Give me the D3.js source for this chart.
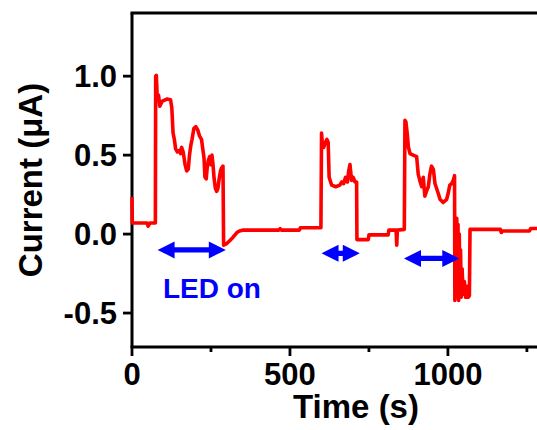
<!DOCTYPE html>
<html>
<head>
<meta charset="utf-8">
<script src="https://cdn.jsdelivr.net/npm/d3@7"></script>
<style>
  body { margin: 0; background: #fff; }
  text { font-family: "Liberation Sans", Arial, sans-serif; font-weight: bold; }
</style>
</head>
<body>
<svg width="537" height="430"></svg>
<script>

// photocurrent trace (time in s, current in uA)
const timeS = [
  // dark, before first LED
  0, 1, 48, 51, 54, 57, 74,
  // LED 1
  75, 77, 80, 84, 88, 95, 110, 122, 126, 130,
  134, 138, 144, 150, 154, 157, 162, 168, 173, 178,
  182, 186, 190, 196, 202, 208, 214, 220, 224, 228,
  231, 235, 238, 242, 246, 250, 253, 256, 260, 264,
  268, 272, 276, 280, 284, 288,
  // dark
  290, 300, 310, 320, 332, 340, 350, 465, 469, 473, 530, 533, 598,
  // LED 2
  600, 603, 607, 612, 617, 621, 624, 632, 645, 658,
  664, 670, 676, 682, 686, 690, 695, 700, 706, 711,
  // dark
  712, 748, 750, 811, 813, 836, 838, 840, 862,
  // LED 3
  864, 867, 871, 875, 880, 890, 901, 906, 911, 917,
  922, 927, 932, 938, 943, 948, 954, 959, 964, 969,
  975, 985, 996, 1001, 1006, 1012, 1017, 1021,
  // noisy part after switching off
  1022, 1024, 1026, 1028, 1030, 1032, 1034, 1036, 1038, 1040,
  1042, 1045, 1048, 1052, 1056, 1060, 1064, 1068, 1070,
  // dark
  1071, 1166, 1169, 1173, 1258, 1262, 1282
];

const currentUA = [
  0.235, 0.07, 0.07, 0.05, 0.06, 0.07, 0.07,
  1.0, 1.005, 0.86, 0.88, 0.81, 0.84, 0.855, 0.85, 0.80, 0.64,
  0.60, 0.54, 0.52, 0.53, 0.51, 0.55, 0.52, 0.44, 0.40, 0.41,
  0.50, 0.56, 0.60, 0.67, 0.68, 0.66, 0.62, 0.60, 0.54, 0.48,
  0.36, 0.35, 0.42, 0.47, 0.49, 0.44, 0.50, 0.45, 0.35, 0.29,
  0.27, 0.29, 0.35, 0.40, 0.42, 0.43,
  -0.07, -0.06, -0.04, -0.02, 0.01, 0.02, 0.025, 0.025, 0.035, 0.025, 0.025, 0.04, 0.04,
  0.64, 0.56, 0.55, 0.58, 0.60, 0.58, 0.36, 0.31, 0.30, 0.31,
  0.33, 0.32, 0.36, 0.33, 0.40, 0.44, 0.34, 0.36, 0.33, 0.33,
  -0.035, -0.035, -0.005, -0.005, 0.025, 0.025, -0.07, 0.025, 0.03,
  0.72, 0.71, 0.64, 0.55, 0.51, 0.50, 0.49, 0.38, 0.34, 0.30,
  0.36, 0.24, 0.27, 0.30, 0.38, 0.43, 0.41, 0.32, 0.29, 0.26,
  0.22, 0.20, 0.22, 0.26, 0.31, 0.32, 0.34, 0.37,
  -0.42, 0.05, -0.40, 0.10, -0.38, 0.06, -0.42, 0.0, -0.36, -0.10,
  -0.40, -0.22, -0.38, -0.30, -0.40, -0.33, -0.40, -0.39, 0.03,
  0.03, 0.03, 0.01, 0.02, 0.02, 0.035, 0.035
];

// LED on periods (double arrows)
const ledStart = [81, 600, 861];
const ledEnd = [297, 721, 1036];
const ledArrowY = [-0.10, -0.122, -0.154];

// axis ticks
const xTicksMajor = [0, 500, 1000];
const xTicksMinor = [250, 750, 1250];
const yTicks = [-0.5, 0.0, 0.5, 1.0];

const xLabel = 'Time (s)';
const yLabel = 'Current (\u03bcA)';
const ledLabel = 'LED on';

//---- chart setup ----
const svg = d3.select('svg');
const width = +svg.attr('width');

// plot box (top/left/bottom edge in px)
const plotLeft = 132, plotTop = 13, plotBottom = 347;

const x = d3.scaleLinear().domain([0, 1282]).range([plotLeft, width]);
const y = d3.scaleLinear().domain([-0.715, 1.4]).range([plotBottom, plotTop]);

//---- axes / frame (drawn first, the trace sits on top of it) ----
const frame = svg.append('g').attr('stroke', '#000').attr('stroke-width', 3);
frame.append('line').attr('x1', plotLeft - 1.5).attr('x2', width).attr('y1', plotTop).attr('y2', plotTop);
frame.append('line').attr('x1', plotLeft).attr('x2', plotLeft).attr('y1', plotTop).attr('y2', plotBottom);
frame.append('line').attr('x1', plotLeft - 1.5).attr('x2', width).attr('y1', plotBottom).attr('y2', plotBottom);

// y ticks (outside)
frame.selectAll('line.yt').data(yTicks)
  .enter().append('line')
  .attr('class', 'yt')
  .attr('stroke-width', 2.8)
  .attr('x1', plotLeft - 9).attr('x2', plotLeft)
  .attr('y1', d => y(d)).attr('y2', d => y(d));

frame.selectAll('line.xt').data(xTicksMajor)
  .enter().append('line')
  .attr('class', 'xt')
  .attr('stroke-width', 2.8)
  .attr('x1', d => x(d)).attr('x2', d => x(d))
  .attr('y1', plotBottom).attr('y2', plotBottom + 9);

frame.selectAll('line.xm').data(xTicksMinor)
  .enter().append('line')
  .attr('class', 'xm')
  .attr('stroke-width', 2.8)
  .attr('x1', d => x(d)).attr('x2', d => x(d))
  .attr('y1', plotBottom).attr('y2', plotBottom + 5);

// plain hyphen for negatives, like the original
svg.selectAll('text.ytl').data(yTicks)
  .enter().append('text')
  .attr('class', 'ytl')
  .attr('x', plotLeft - 15)
  .attr('y', d => y(d) + 11)
  .attr('text-anchor', 'end')
  .attr('font-size', 31)
  .text(d => d.toFixed(1));

svg.selectAll('text.xtl').data(xTicksMajor)
  .enter().append('text')
  .attr('class', 'xtl')
  .attr('x', d => x(d))
  .attr('y', 385)
  .attr('text-anchor', 'middle')
  .attr('font-size', 31)
  .text(d => d);

// axis titles
svg.append('text')
  .attr('x', 356)
  .attr('y', 418)
  .attr('text-anchor', 'middle')
  .attr('font-size', 33)
  .text(xLabel);

svg.append('text')
  .attr('transform', 'translate(42,180) rotate(-90)')
  .attr('text-anchor', 'middle')
  .attr('font-size', 33)
  .text(yLabel);

//---- the trace ----
svg.append('defs').append('clipPath').attr('id', 'plotclip')
  .append('rect')
  .attr('x', plotLeft - 2).attr('y', plotTop)
  .attr('width', width - plotLeft + 2).attr('height', plotBottom - plotTop);

const points = timeS.map((t, i) => [t, currentUA[i]]);
const line = d3.line().x(d => x(d[0])).y(d => y(d[1]));

svg.append('path')
  .datum(points)
  .attr('clip-path', 'url(#plotclip)')
  .attr('fill', 'none')
  .attr('stroke', '#ff0000')
  .attr('stroke-width', 3.6)
  .attr('stroke-linejoin', 'round')
  .attr('d', line);

// double headed arrows
const headLen = 17, headHalf = 8.5, shaft = 2.6;
function arrowPath(x0, x1, yy) {
  return `M${x0},${yy} L${x0 + headLen},${yy - headHalf} L${x0 + headLen},${yy - shaft}
    L${x1 - headLen},${yy - shaft} L${x1 - headLen},${yy - headHalf} L${x1},${yy}
    L${x1 - headLen},${yy + headHalf} L${x1 - headLen},${yy + shaft}
    L${x0 + headLen},${yy + shaft} L${x0 + headLen},${yy + headHalf} Z`;
}

svg.selectAll('path.arrow').data(ledStart)
  .enter().append('path')
  .attr('class', 'arrow')
  .attr('fill', '#0000ff')
  .attr('d', (d, i) => arrowPath(x(d), x(ledEnd[i]), y(ledArrowY[i])));

svg.append('text')
  .attr('x', x(98))
  .attr('y', y(-0.405))
  .attr('fill', '#0000ff')
  .attr('font-size', 28)
  .text(ledLabel);

</script>
</body>
</html>
